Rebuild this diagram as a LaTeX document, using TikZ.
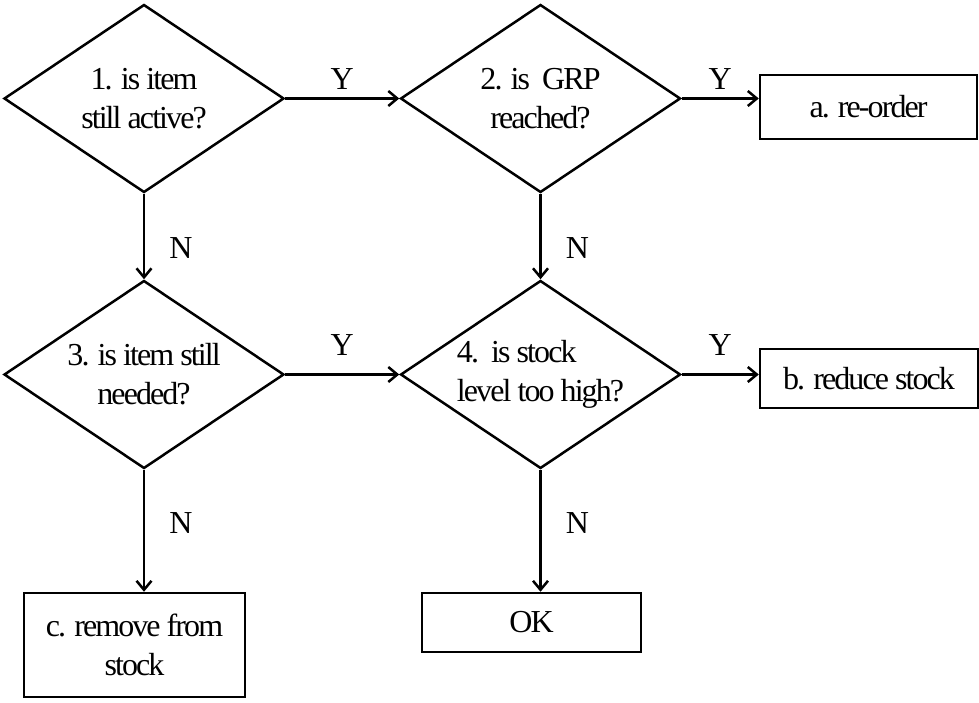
\documentclass[tikz,border=0pt]{standalone}
\usepackage{fontspec}
\setmainfont[LetterSpace=-6]{Liberation Serif}
\usetikzlibrary{shapes.geometric,arrows.meta}
\begin{document}
\begin{tikzpicture}[x=1pt,y=-1pt,
  every node/.style={font=\fontsize{32}{39}\selectfont},
  decision/.style={draw, diamond, line width=2.5pt, minimum width=280pt,
    minimum height=188pt, inner sep=0pt, aspect=1.47, align=center},
  outcome/.style={draw, rectangle, line width=2.5pt, inner sep=0pt, align=center},
  flow/.style={line width=2.5pt, -{Straight Barb[length=9pt,width=15pt,line width=2.5pt]}},
  answer/.style={inner sep=0pt}
]
\useasboundingbox (0,0) rectangle (979,703);

% decisions
\node[decision] (d1) at (144,98.5) {1. is item\\still active?};
\node[decision] (d2) at (540.5,98.5) {2. is\ \ GRP\\reached?};
\node[decision] (d3) at (144,374.5) {3. is item still\\needed?};
\node[decision, align=left] (d4) at (540.5,374.5) {4.\ \ is stock\\level too high?};

% outcomes
\node[outcome, minimum width=217pt, minimum height=64pt] (ra) at (868.5,107) {a. re-order};
\node[outcome, minimum width=218pt, minimum height=59pt] (rb) at (869,378.5) {b. reduce stock};
\node[outcome, minimum width=221pt, minimum height=104pt] (rc) at (134.5,645) {c. remove from\\stock};
\node[outcome, minimum width=219pt, minimum height=59pt] (ok) at (531.5,622.5) {OK};

% yes branches
\draw[flow] (d1.east) -- node[answer, above=8pt] {Y} (d2.west);
\draw[flow] (d2.east) -- node[answer, above=8pt] {Y} (d2.east -| ra.west);
\draw[flow] (d3.east) -- node[answer, above=18pt] {Y} (d4.west);
\draw[flow] (d4.east) -- node[answer, above=18pt] {Y} (d4.east -| rb.west);

% no branches
\draw[flow] (d1.south) -- node[answer, pos=0.64, right=24pt] {N} (d3.north);
\draw[flow] (d2.south) -- node[answer, pos=0.64, right=24pt] {N} (d4.north);
\draw[flow] (d3.south) -- node[answer, pos=0.44, right=24pt] {N} (d3.south |- rc.north);
\draw[flow] (d4.south) -- node[answer, pos=0.44, right=24pt] {N} (d4.south |- ok.north);
\end{tikzpicture}
\end{document}
